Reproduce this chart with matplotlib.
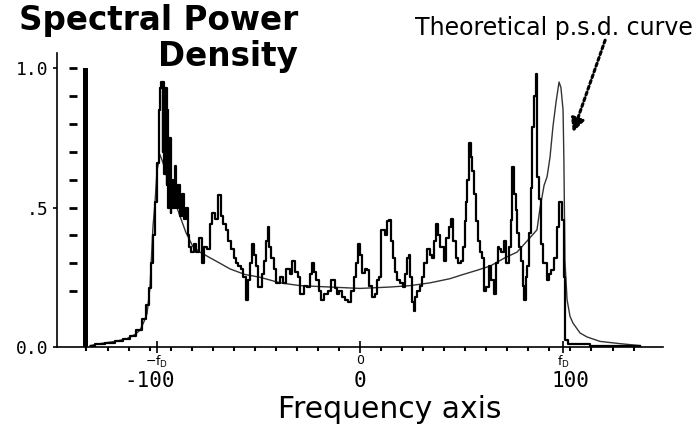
import matplotlib
matplotlib.use("Agg")
import matplotlib.pyplot as plt

# ---------------- data (frequency in Hz, normalised spectral power) ----------------
meas_freq = [
    -128, -123.6, -118.8, -114.1, -110.7, -107.9, -104.6, -102.2, -100.8, -99.8,
    -98.9, -97.9, -97.0, -96.0, -95.1, -94.6, -94.1, -93.6, -93.2, -92.7,
    -92.2, -91.7, -91.3, -90.8, -90.3, -89.8, -89.4, -88.4, -87.5, -87.0,
    -86.0, -85.1, -84.1, -83.2, -82.2, -81.3, -80.8, -79.8, -78.4, -77.5,
    -76.0, -74.6, -73.7, -72.2, -70.8, -69.9, -68.0, -66.5, -65.6, -64.2,
    -63.2, -61.8, -60.8, -59.4, -58.5, -57.0, -56.1, -54.7, -53.7, -52.8,
    -51.8, -50.9, -49.9, -49.0, -47.5, -46.1, -45.2, -44.2, -43.7, -42.8,
    -41.8, -40.4, -39.0, -37.5, -36.1, -34.2, -32.8, -31.8, -30.4, -29.0,
    -27.6, -26.1, -24.7, -23.3, -22.3, -21.4, -20.4, -19.0, -17.6, -16.2,
    -14.3, -12.8, -11.4, -10.5, -9.0, -8.1, -6.2, -4.8, -3.3, -2.4,
    -1.4, -0.5, 0.5, 1.4, 2.9, 3.8, 4.8, 6.2, 7.6, 8.6,
    9.5, 10.9, 12.4, 13.3, 14.3, 15.2, 15.7, 17.1, 18.1, 19.5,
    20.9, 21.9, 22.8, 23.3, 24.2, 25.2, 25.7, 26.6, 27.6, 29.0,
    29.9, 31.4, 32.3, 33.8, 34.7, 35.6, 36.6, 37.5, 39.0, 40.4,
    41.8, 42.8, 43.7, 44.7, 46.1, 47.5, 48.5, 49.4, 50.4, 50.8,
    51.3, 52.3, 53.2, 53.7, 54.7, 55.6, 56.1, 57.5, 58.0, 59.4,
    60.4, 61.8, 62.7, 64.2, 65.1, 65.6, 66.5, 67.5, 68.9, 70.3,
    71.3, 72.2, 72.7, 73.7, 74.6, 75.1, 76.0, 77.0, 77.9, 78.4,
    79.4, 79.8, 80.8, 81.7, 82.2, 83.2, 84.1, 84.6, 85.6, 86.5,
    87.9, 89.4, 90.3, 91.3, 92.7, 94.1, 95.5, 96.5, 97.4, 97.9,
    99.8, 104.6, 114.1, 123.6, 133.0,
]
meas_psd = [
    0.005, 0.01, 0.015, 0.02, 0.03, 0.04, 0.06, 0.10, 0.15, 0.21,
    0.30, 0.40, 0.52, 0.66, 0.85, 0.93, 0.95, 0.70, 0.95, 0.62,
    0.93, 0.58, 0.85, 0.50, 0.75, 0.48, 0.60, 0.50, 0.65, 0.50,
    0.58, 0.47, 0.55, 0.46, 0.50, 0.40, 0.36, 0.34, 0.37, 0.34,
    0.39, 0.30, 0.36, 0.35, 0.44, 0.48, 0.46, 0.545, 0.47, 0.44,
    0.42, 0.38, 0.35, 0.32, 0.30, 0.29, 0.28, 0.25, 0.17, 0.24,
    0.30, 0.37, 0.33, 0.29, 0.215, 0.26, 0.31, 0.38, 0.43, 0.36,
    0.32, 0.28, 0.23, 0.25, 0.23, 0.28, 0.26, 0.31, 0.27, 0.25,
    0.19, 0.22, 0.215, 0.26, 0.30, 0.27, 0.24, 0.20, 0.17, 0.19,
    0.20, 0.24, 0.21, 0.19, 0.20, 0.18, 0.17, 0.16, 0.20, 0.25,
    0.30, 0.37, 0.33, 0.265, 0.28, 0.275, 0.22, 0.18, 0.19, 0.24,
    0.25, 0.42, 0.40, 0.45, 0.455, 0.38, 0.32, 0.27, 0.24, 0.23,
    0.215, 0.26, 0.32, 0.33, 0.25, 0.16, 0.13, 0.18, 0.20, 0.22,
    0.25, 0.30, 0.35, 0.33, 0.32, 0.38, 0.44, 0.40, 0.36, 0.31,
    0.39, 0.43, 0.46, 0.38, 0.32, 0.30, 0.31, 0.36, 0.45, 0.52,
    0.60, 0.73, 0.68, 0.63, 0.55, 0.45, 0.38, 0.34, 0.32, 0.20,
    0.215, 0.29, 0.24, 0.19, 0.30, 0.36, 0.35, 0.34, 0.38, 0.30,
    0.36, 0.455, 0.645, 0.55, 0.49, 0.41, 0.36, 0.31, 0.22, 0.17,
    0.25, 0.29, 0.41, 0.57, 0.79, 0.90, 0.98, 0.61, 0.53, 0.37,
    0.30, 0.24, 0.26, 0.275, 0.32, 0.43, 0.52, 0.455, 0.25, 0.025,
    0.01, 0.01, 0.005, 0.005, 0.005,
]

theo_freq = [
    -128.3, -123.6, -116.4, -110.7, -106.9, -104.6, -102.7, -101.2, -99.8, -98.4,
    -97.4, -96.5, -95.1, -93.6, -92.2, -90.3, -87.9, -85.6, -82.7, -79.4,
    -76.0, -71.3, -66.5, -61.8, -54.7, -47.5, -38.0, -28.5, -14.3, 0.0,
    14.3, 23.8, 33.3, 42.8, 49.0, 55.6, 61.8, 68.9, 74.6, 79.4,
    84.1, 85.6, 87.5, 88.9, 90.3, 91.7, 93.2, 94.6, 95.5, 96.5,
    96.9, 97.4, 98.4, 99.8, 101.2, 104.6, 107.9, 114.1, 123.6, 133.1,
]
theo_psd = [
    0.005, 0.012, 0.02, 0.03, 0.045, 0.06, 0.09, 0.12, 0.215, 0.43,
    0.52, 0.63, 0.69, 0.66, 0.62, 0.57, 0.52, 0.47, 0.41, 0.36,
    0.34, 0.32, 0.30, 0.28, 0.26, 0.25, 0.23, 0.22, 0.215, 0.21,
    0.215, 0.22, 0.23, 0.245, 0.26, 0.275, 0.29, 0.32, 0.34, 0.38,
    0.42, 0.50, 0.58, 0.61, 0.68, 0.79, 0.88, 0.95, 0.93, 0.85,
    0.67, 0.31, 0.17, 0.11, 0.086, 0.05, 0.036, 0.02, 0.012, 0.005,
]

bar_freq = [-130.5]
bar_height = [1.0]
scale_levels = [0.2, 0.3, 0.4, 0.5, 0.6, 0.7, 0.8, 0.9, 1.0]
scale_freq = -136.4

fd = 96.5
xtick_vals = [-100, 0, 100]
xtick_labels = ["-100", "0", "100"]
fd_tick_vals = [-fd, 0, fd]
fd_tick_labels = [r"$\mathregular{-f_D}$", "0", r"$\mathregular{f_D}$"]
ytick_vals = [0.0, 0.5, 1.0]
ytick_labels = ["0.0", ".5", "1.0"]
minor_ticks = list(range(-130, 140, 10))

# ---------------- figure ----------------
W, H = 698, 430
fig = plt.figure(figsize=(W / 100, H / 100), dpi=100)
fig.patch.set_facecolor("white")

ax = fig.add_axes([57 / W, (H - 347) / H, (663 - 57) / W, (347 - 53) / H])
ax.set_xlim(-144, 144)
ax.set_ylim(0, 1.054)

for s in ("top", "right"):
    ax.spines[s].set_visible(False)
for s in ("left", "bottom"):
    ax.spines[s].set_linewidth(1.2)
    ax.spines[s].set_color("black")

# theoretical curve
ax.plot(theo_freq, theo_psd, color="#333333", lw=1.0, zorder=3)
# measured spectrum
ax.plot(meas_freq, meas_psd, color="black", lw=1.6, drawstyle="steps-mid", zorder=4)
# thick vertical marker bar
ax.bar(bar_freq, bar_height, width=2.4, color="black", zorder=5)
# scale dashes next to the bar
ax.plot([scale_freq] * len(scale_levels), scale_levels, ls="none", marker="_",
        ms=6, mew=2, color="black", clip_on=False)

# ticks
ax.set_xticks(fd_tick_vals)
ax.set_xticklabels(fd_tick_labels, fontsize=9)
ax.set_xticks(minor_ticks, minor=True)
ax.tick_params(axis="x", which="major", direction="inout", length=8, width=1.2, pad=1)
ax.tick_params(axis="x", which="minor", direction="out", length=3, width=1.5)
ax.set_yticks(ytick_vals)
ax.set_yticklabels(ytick_labels, fontsize=13, family="DejaVu Sans Mono")
ax.tick_params(axis="y", length=3, width=1.2, pad=3)

sec = ax.secondary_xaxis("bottom")
sec.set_xticks(xtick_vals)
sec.set_xticklabels(xtick_labels, fontsize=15, family="DejaVu Sans Mono")
sec.tick_params(length=0, pad=17)
sec.spines["bottom"].set_visible(False)

# texts
fig.text(298 / W, 1 - 30 / H, "Spectral Power", ha="right", va="baseline",
         fontsize=23.5, fontweight="bold", family="DejaVu Sans")
fig.text(298 / W, 1 - 66 / H, "Density", ha="right", va="baseline",
         fontsize=23.5, fontweight="bold", family="DejaVu Sans")
fig.text(693 / W, 1 - 28 / H, "Theoretical p.s.d. curve", ha="right", va="center",
         fontsize=17, family="DejaVu Sans")
fig.text(390 / W, 1 - 409 / H, "Frequency axis", ha="center", va="center",
         fontsize=21.5, family="DejaVu Sans")

# dotted pointer to theoretical curve
ax.annotate("", xy=(101.2, 0.77), xytext=(116.5, 1.10),
            arrowprops=dict(arrowstyle="-|>", linestyle=(0, (1, 1)), lw=2.2,
                            color="black", mutation_scale=20, shrinkA=0, shrinkB=0),
            annotation_clip=False)

fig.savefig("out.png", dpi=100, facecolor="white")
